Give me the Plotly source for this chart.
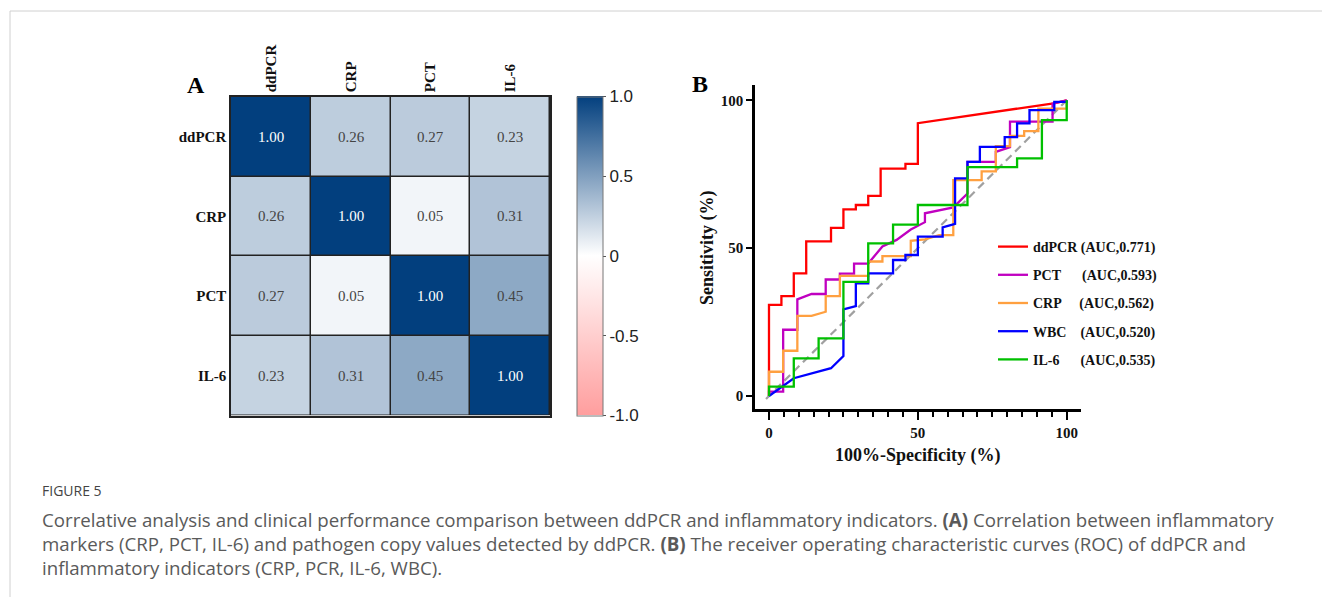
import plotly.graph_objects as go

W, H = 1322, 597

# ---------------- Panel A data ----------------
markers = ["ddPCR", "CRP", "PCT", "IL-6"]
corr = [
    [1.00, 0.26, 0.27, 0.23],
    [0.26, 1.00, 0.05, 0.31],
    [0.27, 0.05, 1.00, 0.45],
    [0.23, 0.31, 0.45, 1.00],
]
cbar_vals = [1.0, 0.5, 0, -0.5, -1.0]
cbar_text = ["1.0", "0.5", "0", "-0.5", "-1.0"]

# ---------------- Panel B data (ROC) ----------------
ddpcr_x = [0, 0, 4.17, 4.17, 8.33, 8.33, 12.5, 12.5, 20.83, 20.83, 25.0, 25.0, 29.17, 29.17,
           33.33, 33.33, 37.5, 37.5, 45.83, 45.83, 50.0, 50.0, 95.6, 100]
ddpcr_y = [0, 30.8, 30.8, 33.8, 33.8, 41.5, 41.5, 52.3, 52.3, 56.9, 56.9, 63.1, 63.1, 64.6,
           64.6, 67.7, 67.7, 76.9, 76.9, 78.5, 78.5, 92.3, 99.0, 100]

pct_x = [0, 0, 4.76, 4.76, 9.52, 9.52, 14.29, 19.05, 19.05, 23.81, 23.81, 28.57, 28.57, 33.33,
         38.1, 42.86, 47.62, 52.38, 52.38, 61.9, 66.67, 66.67, 76.19, 76.19, 80.95, 80.95,
         95.24, 95.24, 100]
pct_y = [0, 1.5, 1.5, 22.4, 22.4, 32.7, 34.5, 34.5, 39.4, 39.4, 41.4, 41.4, 44.8, 44.8,
         50.6, 52.8, 56.3, 58.8, 61.8, 63.8, 68.5, 79.2, 79.2, 82.6, 84.2, 92.8,
         92.8, 98.9, 100]

crp_x = [0, 0, 4.76, 4.76, 9.52, 9.52, 14.29, 19.05, 19.05, 23.81, 23.81, 33.33, 33.33, 38.1,
         38.1, 47.62, 47.62, 52.38, 57.14, 61.9, 61.9, 71.43, 71.43, 76.19, 76.19, 80.95,
         80.95, 85.71, 85.71, 90.48, 90.48, 100, 100]
crp_y = [0, 8.2, 8.2, 15.3, 15.3, 27.1, 27.1, 28.5, 33.8, 33.8, 40.6, 40.6, 45.5, 45.5,
         47.3, 47.3, 52.5, 53.0, 54.4, 54.4, 73.0, 73.0, 76.0, 76.0, 84.5, 84.5,
         88.0, 88.0, 89.6, 89.6, 97.2, 97.2, 100]

wbc_x = [0, 8.33, 20.83, 25.0, 25.0, 29.17, 29.17, 33.33, 33.33, 41.67, 41.67, 45.83, 45.83,
         50.0, 50.0, 58.33, 58.33, 62.5, 62.5, 66.67, 66.67, 70.83, 70.83, 79.17, 79.17,
         83.33, 83.33, 87.5, 87.5, 95.83, 95.83, 100, 100]
wbc_y = [0, 6.0, 9.4, 13.5, 29.3, 30.4, 38.1, 38.1, 41.5, 41.5, 46.0, 46.0, 47.7,
         47.7, 53.9, 53.9, 57.0, 58.2, 73.6, 73.6, 79.2, 79.2, 84.3, 84.3, 87.6,
         87.6, 92.2, 92.2, 96.7, 96.7, 99.5, 99.5, 100]

il6_x = [0, 0, 8.33, 8.33, 16.67, 16.67, 25.0, 25.0, 33.33, 33.33, 41.67, 41.67, 50.0, 50.0,
         66.67, 66.67, 83.33, 83.33, 91.67, 91.67, 100, 100]
il6_y = [0, 3.2, 3.2, 12.7, 12.7, 19.5, 19.5, 38.6, 38.6, 51.6, 51.6, 58.0, 58.0, 64.6,
         64.6, 77.4, 77.4, 80.4, 80.4, 93.3, 93.3, 100]

ref_x = [-1, 101]
ref_y = [-1, 101]

series = [
    ("ddPCR", "ddPCR\u00a0(AUC,0.771)", ddpcr_x, ddpcr_y, "#ff0000"),
    ("PCT", "PCT" + "\u00a0" * 6 + "(AUC,0.593)", pct_x, pct_y, "#c000c0"),
    ("CRP", "CRP" + "\u00a0" * 5 + "(AUC,0.562)", crp_x, crp_y, "#ffa040"),
    ("WBC", "WBC" + "\u00a0" * 4 + "(AUC,0.520)", wbc_x, wbc_y, "#0000ff"),
    ("IL-6", "IL-6" + "\u00a0" * 6 + "(AUC,0.535)", il6_x, il6_y, "#00c000"),
]

SERIF = "Liberation Serif"
SANS = "Liberation Sans"


def px(x):
    return x / W


def py(y):
    return 1 - y / H


fig = go.Figure()

# Heatmap
fig.add_trace(go.Heatmap(
    z=corr, x=[0, 1, 2, 3], y=[0, 1, 2, 3],
    zmin=-1, zmax=1,
    colorscale=[[0, "#ff9e9e"], [0.5, "#ffffff"], [1, "#023f7e"]],
    xgap=1.5, ygap=1.5,
    texttemplate="%{z:.2f}",
    textfont=dict(family=SERIF, size=15),
    xaxis="x", yaxis="y",
    hoverinfo="skip",
    showlegend=False,
    colorbar=dict(
        x=px(577), xanchor="left", y=py(415.5), yanchor="bottom",
        xpad=0, ypad=0,
        len=318.5, lenmode="pixels", thickness=26, thicknessmode="pixels",
        tickvals=cbar_vals, ticktext=cbar_text,
        tickfont=dict(family=SANS, size=17, color="#222"),
        outlinewidth=1, outlinecolor="#777",
        ticks="outside", ticklen=3, tickcolor="#555",
    ),
))

# reference diagonal
fig.add_trace(go.Scatter(
    x=ref_x, y=ref_y, mode="lines", xaxis="x2", yaxis="y2",
    line=dict(color="#a0a0a0", width=2.2, dash="8px,5px"),
    showlegend=False, hoverinfo="skip",
))

for key, label, xs, ys, col in series:
    fig.add_trace(go.Scatter(
        x=xs, y=ys, mode="lines", name=label, legendgroup=key,
        xaxis="x2", yaxis="y2",
        line=dict(color=col, width=2.3),
    ))

fig.update_layout(
    width=W, height=H,
    margin=dict(l=0, r=0, t=0, b=0),
    paper_bgcolor="white", plot_bgcolor="white",
    xaxis=dict(
        domain=[px(231), px(550)], range=[-0.5, 3.5], side="top",
        tickvals=[0, 1, 2, 3], ticktext=markers, tickangle=-90,
        tickfont=dict(family=SERIF, size=15, color="#111", weight="bold"),
        showline=True, mirror=True, linecolor="#222", linewidth=1.5,
        showgrid=False, zeroline=False, ticks="", anchor="y",
    ),
    yaxis=dict(
        domain=[py(415.5), py(97)], range=[3.5, -0.5],
        tickvals=[0, 1, 2, 3], ticktext=markers,
        tickfont=dict(family=SERIF, size=15, color="#111", weight="bold"),
        showline=True, mirror=True, linecolor="#222", linewidth=1.5,
        showgrid=False, zeroline=False, ticks="", anchor="x",
    ),
    xaxis2=dict(
        domain=[px(755), px(1081)], range=[-4.7, 104.8], anchor="y2",
        tickmode="linear", tick0=0, dtick=50,
        ticks="outside", ticklen=8, tickwidth=2, tickcolor="#000",
        minor=dict(tickmode="linear", tick0=0, dtick=5, ticks="outside", ticklen=5,
                   tickwidth=2, tickcolor="#000", showgrid=False),
        showline=True, linecolor="#000", linewidth=2.5,
        showgrid=False, zeroline=False,
        tickfont=dict(family=SERIF, size=15, color="#111", weight="bold"),
    ),
    yaxis2=dict(
        domain=[py(409), py(85)], range=[-4.4, 105.2], anchor="x2",
        tickmode="linear", tick0=0, dtick=50,
        ticks="outside", ticklen=6, tickwidth=2, tickcolor="#000",
        showline=True, linecolor="#000", linewidth=2.5,
        showgrid=False, zeroline=False,
        tickfont=dict(family=SERIF, size=15, color="#111", weight="bold"),
    ),
    legend=dict(
        x=px(993), y=py(231), xanchor="left", yanchor="top",
        font=dict(family=SERIF, size=14, color="#111", weight="bold"),
        bgcolor="rgba(0,0,0,0)", traceorder="grouped", tracegroupgap=7,
        itemwidth=30,
    ),
    showlegend=True,
)

# black background under heatmap gaps (cell borders)
fig.add_shape(type="rect", xref="x", yref="y", x0=-0.5, x1=3.5, y0=-0.5, y1=3.5,
              fillcolor="#222", line=dict(width=0), layer="below")

# frame lines of the figure page
fig.add_shape(type="line", xref="paper", yref="paper", x0=px(10), x1=1, y0=py(11), y1=py(11),
              line=dict(color="#d0d0d0", width=1))
fig.add_shape(type="line", xref="paper", yref="paper", x0=px(10), x1=px(10), y0=py(11), y1=0,
              line=dict(color="#d0d0d0", width=1))

ann = []
ann.append(dict(text="A", x=px(196), y=py(85), xanchor="center", yanchor="middle",
                font=dict(family=SERIF, size=24, color="#000", weight="bold")))
ann.append(dict(text="B", x=px(700), y=py(84), xanchor="center", yanchor="middle",
                font=dict(family=SERIF, size=24, color="#000", weight="bold")))
ann.append(dict(text="100%-Specificity (%)", x=px(917), y=py(455), xanchor="center", yanchor="middle",
                font=dict(family=SERIF, size=18, color="#111", weight="bold")))
ann.append(dict(text="Sensitivity (%)", x=px(707), y=py(248), xanchor="center", yanchor="middle",
                textangle=-90, font=dict(family=SERIF, size=18, color="#111", weight="bold")))

cap_font = dict(family="Open Sans", size=18.7, color="#5a5a5a")
ann.append(dict(text="FIGURE 5", x=px(40), y=py(490), xanchor="left", yanchor="middle",
                font=dict(family="Open Sans", size=14, color="#444")))
cap_lines = [
    "Correlative analysis and clinical performance comparison between ddPCR and inflammatory indicators. <b>(A)</b> Correlation between inflammatory",
    "markers (CRP, PCT, IL-6) and pathogen copy values detected by ddPCR. <b>(B)</b> The receiver operating characteristic curves (ROC) of ddPCR and",
    "inflammatory indicators (CRP, PCR, IL-6, WBC).",
]
for i, line in enumerate(cap_lines):
    ann.append(dict(text=line, x=px(40), y=py(519 + 24 * i), xanchor="left", yanchor="middle",
                    font=cap_font))

for a in ann:
    a.update(xref="paper", yref="paper", showarrow=False)
fig.update_layout(annotations=ann)

fig.write_html("out.html", config={"displayModeBar": False},
               post_script="document.body.style.margin='0';")
